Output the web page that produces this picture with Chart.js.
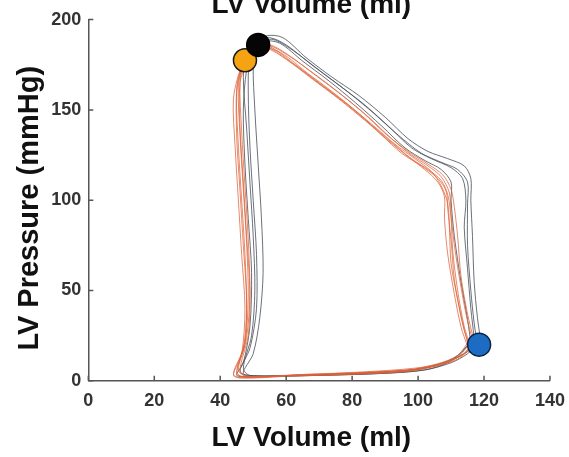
<!DOCTYPE html>
<html>
<head>
<meta charset="utf-8">
<script src="https://cdn.jsdelivr.net/npm/chart.js@4"></script>
<style>
  html, body { margin: 0; padding: 0; background: #fff; overflow: hidden; }
  #wrap { position: relative; width: 569px; height: 457px; overflow: hidden; }
  #chart { position: absolute; left: 0; top: -12px; }
</style>
</head>
<body>
<div id="wrap"><canvas id="chart" width="574" height="469"></canvas></div>
<script>
// axis ticks
var xTicks = [0, 20, 40, 60, 80, 100, 120, 140];
var yTicks = [0, 50, 100, 150, 200];

// PV loops, [volume ml, pressure mmHg]
var grayLoop1 = [[119,22],[118,35],[117,55],[116.5,80],[116,100],[116,112],[114,119],[109,123],[103,127],[97,134],[90,146],[82,158],[74,168],[66,179],[59,190],[54,191],[51,186],[50,175],[50.5,150],[51.5,120],[52.5,90],[53,60],[52,35],[50,15],[47,4],[52,2.5],[70,3],[88,4],[102,6],[110,10],[115,15],[119,22]];
var grayLoop2 = [[118,20],[117,32],[116,50],[115,75],[115,98],[115,110],[112,117],[107,121],[101,126],[94,136],[86,149],[78,161],[70,172],[62,183],[56,189],[52,187],[49,178],[48.5,160],[49,130],[50,100],[51,70],[51,40],[49,18],[46,5],[50,2.8],[65,3.2],[85,4.5],[100,6.5],[108,10],[114,15],[118,20]];
var grayLoop3 = [[117,24],[116,40],[115,62],[114,85],[114.5,100],[113.5,112],[110,118],[104,123],[98,129],[91,141],[83,154],[75,165],[67,176],[60,186],[55,190],[51,188],[48,180],[47,168],[48,140],[49,110],[50,80],[50.5,50],[49.5,25],[47,7],[49,3],[62,3],[80,3.8],[96,5.5],[106,9],[112,14],[117,24]];
var grayLoop4 = [[116,21],[115,34],[113,55],[111,80],[110,100],[110,110],[107,117],[102,122],[96,129],[89,141],[81,154],[73,166],[65,177],[58,187],[53,188],[50,183],[48,172],[47,150],[47.5,120],[48.5,90],[49.5,60],[49,30],[47,10],[45,3],[50,2.5],[68,3],[88,4],[102,6],[110,11],[116,21]];

var orangeLoop1 = [[116,18],[114,28],[112,45],[110,65],[109.5,85],[109,98],[107,108],[104,116],[99,123],[93,131],[86,142],[78,154],[70,165],[62,176],[55,185],[50,184],[47,176],[45,160],[45.5,130],[46.5,100],[47.5,70],[48,40],[47,18],[44,4],[46,1.5],[60,2.5],[78,3.5],[95,5],[105,8],[112,12],[116,18]];
var orangeLoop2 = [[115,19],[113,30],[111,48],[109,70],[108,90],[108,102],[106,110],[102,117],[97,124],[91,133],[84,144],[76,156],[68,167],[60,178],[54,184],[49,182],[46,172],[44,156],[44.5,130],[45.5,100],[46.5,70],[47.5,40],[46.5,15],[44,3],[47,1.8],[63,2.8],[82,3.8],[98,5.5],[107,9],[112,13],[115,19]];
var orangeLoop3 = [[117,20],[115,33],[113,52],[111,75],[110,92],[109.5,104],[107,113],[103,119],[98,125],[92,134],[85,146],[77,158],[69,169],[61,180],[55,186],[51,184],[48,176],[46,165],[46,140],[47,110],[48,80],[49,50],[48.5,25],[46,6],[48,2.5],[65,3.5],[84,5],[99,7],[108,10],[114,15],[117,20]];
var orangeLoop4 = [[115,21],[113,36],[111,56],[110,78],[109,95],[108.5,105],[106,112],[101,119],[95,126],[89,136],[82,148],[74,160],[66,171],[59,181],[53,185],[49,182],[46.5,174],[45,162],[45,135],[46,105],[47,75],[48,45],[47.5,22],[45,5],[47,2],[62,3],[80,4.2],[97,6],[106,9.5],[112,14],[115,21]];
var orangeLoop5 = [[116,19],[114,30],[112,50],[110.5,72],[110,90],[109,103],[107,111],[103,117],[98,123],[92,132],[85,143],[77,155],[69,166],[61,177],[55,184],[50,183],[47,175],[45.5,163],[46,136],[47,106],[48,76],[48.5,46],[47.5,20],[45,4],[48,2.2],[64,3],[83,4.2],[98,6],[107,9.5],[113,14],[116,19]];
var orangeLoop6 = [[117,22],[115,37],[113,58],[112,80],[111,96],[110,106],[107.5,114],[103,120],[97,127],[90,137],[83,149],[75,161],[67,172],[59,182],[54,186],[50,184],[47.5,177],[46,166],[46.5,138],[47.5,108],[48.5,78],[49,48],[48,24],[45.5,6],[48,2.5],[66,3.5],[85,4.8],[100,6.5],[108,10],[114,15],[117,22]];

// marked points
var endSystoleBlack = [[51.5, 186]];
var endSystoleOrange = [[47.5, 177.5]];
var endDiastoleBlue = [[118.5, 20]];

var grayLoops = [grayLoop1, grayLoop2, grayLoop3, grayLoop4];
var orangeLoops = [orangeLoop1, orangeLoop2, orangeLoop3, orangeLoop4, orangeLoop5, orangeLoop6];

var FONT = "'Liberation Sans', Arial, sans-serif";

function toXY(arr) {
    return arr.map(function(p) { return { x: p[0], y: p[1] }; });
}

function loopSet(arr, color) {
    return {
        data: toXY(arr),
        showLine: true,
        borderColor: color,
        borderWidth: 1,
        pointRadius: 0,
        tension: 0.3,
        order: 2
    };
}

function markerSet(arr, fill, border, order) {
    return {
        data: toXY(arr),
        showLine: false,
        pointRadius: 11.5,
        pointBackgroundColor: fill,
        pointBorderColor: border,
        pointBorderWidth: 1.5,
        order: order
    };
}

var datasets = [];
orangeLoops.forEach(function(l) { datasets.push(loopSet(l, 'rgba(222,98,56,0.75)')); });
grayLoops.forEach(function(l) { datasets.push(loopSet(l, 'rgba(70,78,88,0.8)')); });
datasets.push(markerSet(endSystoleBlack, '#050505', '#000000', 0));
datasets.push(markerSet(endSystoleOrange, '#f5a313', '#1a1a1a', 1));
datasets.push(markerSet(endDiastoleBlue, '#1c6cc4', '#0b2340', 1));

// MATLAB style ticks pointing into the plot
var inwardTicks = {
    id: 'inwardTicks',
    afterDraw: function(chart) {
        var ctx = chart.ctx, xs = chart.scales.x, ys = chart.scales.y;
        var area = chart.chartArea;
        ctx.save();
        ctx.strokeStyle = '#555';
        ctx.lineWidth = 1.5;
        ctx.beginPath();
        xTicks.forEach(function(v) {
            var px = xs.getPixelForValue(v);
            ctx.moveTo(px, area.bottom);
            ctx.lineTo(px, area.bottom - 5);
        });
        yTicks.forEach(function(v) {
            var py = ys.getPixelForValue(v);
            ctx.moveTo(area.left, py);
            ctx.lineTo(area.left + 5, py);
        });
        ctx.stroke();
        ctx.restore();
    }
};

new Chart(document.getElementById('chart'), {
    type: 'scatter',
    data: { datasets: datasets },
    options: {
        responsive: false,
        animation: false,
        devicePixelRatio: 1,
        layout: { padding: { left: 0, right: 0, top: 0, bottom: 0 } },
        plugins: {
            legend: { display: false },
            tooltip: { enabled: false },
            title: {
                display: true,
                fullSize: false,
                text: 'LV Volume (ml)  ',
                color: '#111',
                font: { family: FONT, size: 28, weight: 'bold' },
                padding: { top: 0, bottom: -2 }
            }
        },
        scales: {
            x: {
                type: 'linear',
                min: 0,
                max: 140,
                afterBuildTicks: function(s) { s.ticks = xTicks.map(function(v) { return { value: v }; }); },
                ticks: { color: '#333', font: { family: FONT, size: 18, weight: 'bold' }, padding: 9 },
                grid: { display: true, drawOnChartArea: false, drawTicks: false },
                border: { display: true, color: '#555', width: 1.5 },
                title: {
                    display: true,
                    text: 'LV Volume (ml)  ',
                    color: '#111',
                    font: { family: FONT, size: 28, weight: 'bold' },
                    padding: { top: 1, bottom: 2 }
                }
            },
            y: {
                type: 'linear',
                min: 0,
                max: 200,
                afterBuildTicks: function(s) { s.ticks = yTicks.map(function(v) { return { value: v }; }); },
                ticks: { color: '#333', font: { family: FONT, size: 18, weight: 'bold' }, padding: 7 },
                grid: { display: true, drawOnChartArea: false, drawTicks: false },
                border: { display: true, color: '#555', width: 1.5 },
                title: {
                    display: true,
                    text: 'LV Pressure (mmHg)  ',
                    color: '#111',
                    font: { family: FONT, size: 29, weight: 'bold' },
                    padding: { top: 13, bottom: -3.5 }
                }
            }
        }
    },
    plugins: [inwardTicks]
});
</script>
</body>
</html>
